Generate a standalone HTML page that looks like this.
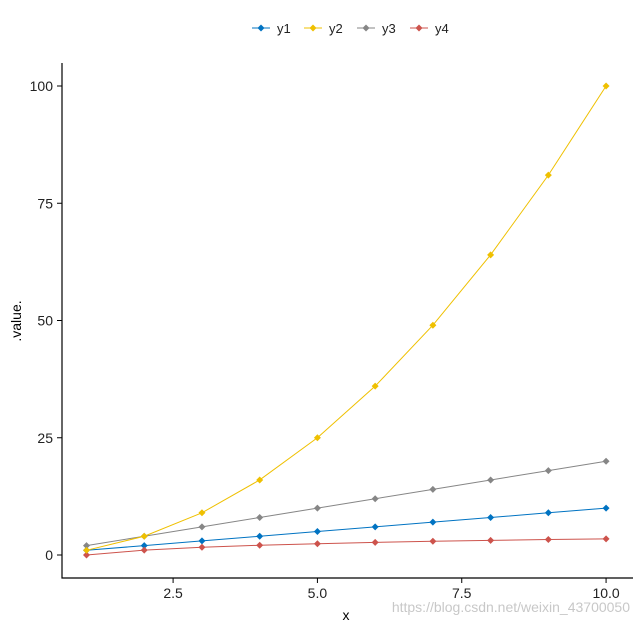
<!DOCTYPE html>
<html><head><meta charset="utf-8"><style>
body{margin:0;background:#fff;font-family:"Liberation Sans",sans-serif}
text{font-family:"Liberation Sans",sans-serif}
</style></head><body>
<svg width="641" height="630">
<g id="legend"></g>
<g id="plot"></g>
<text x="346" y="620" font-size="14" text-anchor="middle" fill="#000">x</text>
<text transform="translate(21,321) rotate(-90)" font-size="14" text-anchor="middle" fill="#000">.value.</text>
<text x="630" y="612" font-size="14" text-anchor="end" fill="#c8c8c8">https://blog.csdn.net/weixin_43700050</text>
</svg>
<script>
const xs=[1,2,3,4,5,6,7,8,9,10];
const y1=[1,2,3,4,5,6,7,8,9,10];
const y2=[1,4,9,16,25,36,49,64,81,100];
const y3=[2,4,6,8,10,12,14,16,18,20];
const y4=[0,1.04,1.65,2.08,2.41,2.69,2.92,3.12,3.3,3.45];
const xTicks=[2.5,5.0,7.5,10.0];
const xTickLabels=["2.5","5.0","7.5","10.0"];
const yTicks=[0,25,50,75,100];
const yTickLabels=["0","25","50","75","100"];
const seriesNames=["y1","y2","y3","y4"];
const NS="http://www.w3.org/2000/svg";
const sx=v=>86.5+(v-1)*57.73;
const sy=v=>555-v*4.69;
const plot=document.getElementById('plot');
function mk(t,a,p){const e=document.createElementNS(NS,t);for(const k in a)e.setAttribute(k,a[k]);(p||plot).appendChild(e);return e;}
const ax=mk('path',{d:'M62,63 V578 H633',fill:'none',stroke:'#000','stroke-width':1.2});


xTicks.forEach((t,i)=>{
 const tk=mk('line',{x1:sx(t),x2:sx(t),y1:578,y2:583,stroke:'#000'});
 
 
 const l=mk('text',{x:sx(t),y:598,'font-size':14,'text-anchor':'middle',fill:'#222'});
 l.textContent=xTickLabels[i];
 
 
});
yTicks.forEach((t,i)=>{
 const tk=mk('line',{x1:57,x2:62,y1:sy(t),y2:sy(t),stroke:'#000'});
 
 
 const l=mk('text',{x:53,y:sy(t)+5,'font-size':14,'text-anchor':'end',fill:'#222'});
 l.textContent=yTickLabels[i];
 
 
});
const colors=["#0073C2","#EFC000","#868686","#CD534C"];
const data=[y1,y2,y3,y4];
[2,0,3,1].forEach(si=>{
 const d=data[si];
 const g=mk('g',{});
 
 
 const pl=mk('polyline',{points:xs.map((x,i)=>sx(x)+','+sy(d[i])).join(' '),fill:'none',stroke:colors[si],'stroke-width':1},g);
 
 
 xs.forEach((x,i)=>{
  const X=sx(x),Y=sy(d[i]);
  const p=mk('path',{d:`M${X},${Y-3.5} L${X+3.5},${Y} L${X},${Y+3.5} L${X-3.5},${Y}Z`,fill:colors[si]},g);
  
  
 });
});
const lg=document.getElementById('legend');
const lx=[252,304,357,410];
seriesNames.forEach((n,i)=>{
 const g=mk('g',{},lg);
 
 
 mk('line',{x1:lx[i],x2:lx[i]+18,y1:28,y2:28,stroke:colors[i]},g);
 mk('path',{d:`M${lx[i]+9},24.5 L${lx[i]+12.5},28 L${lx[i]+9},31.5 L${lx[i]+5.5},28Z`,fill:colors[i]},g);
 const t=mk('text',{x:lx[i]+25,y:33,'font-size':13,fill:'#222'},g);
 t.textContent=n;
});
</script>
</body></html>
